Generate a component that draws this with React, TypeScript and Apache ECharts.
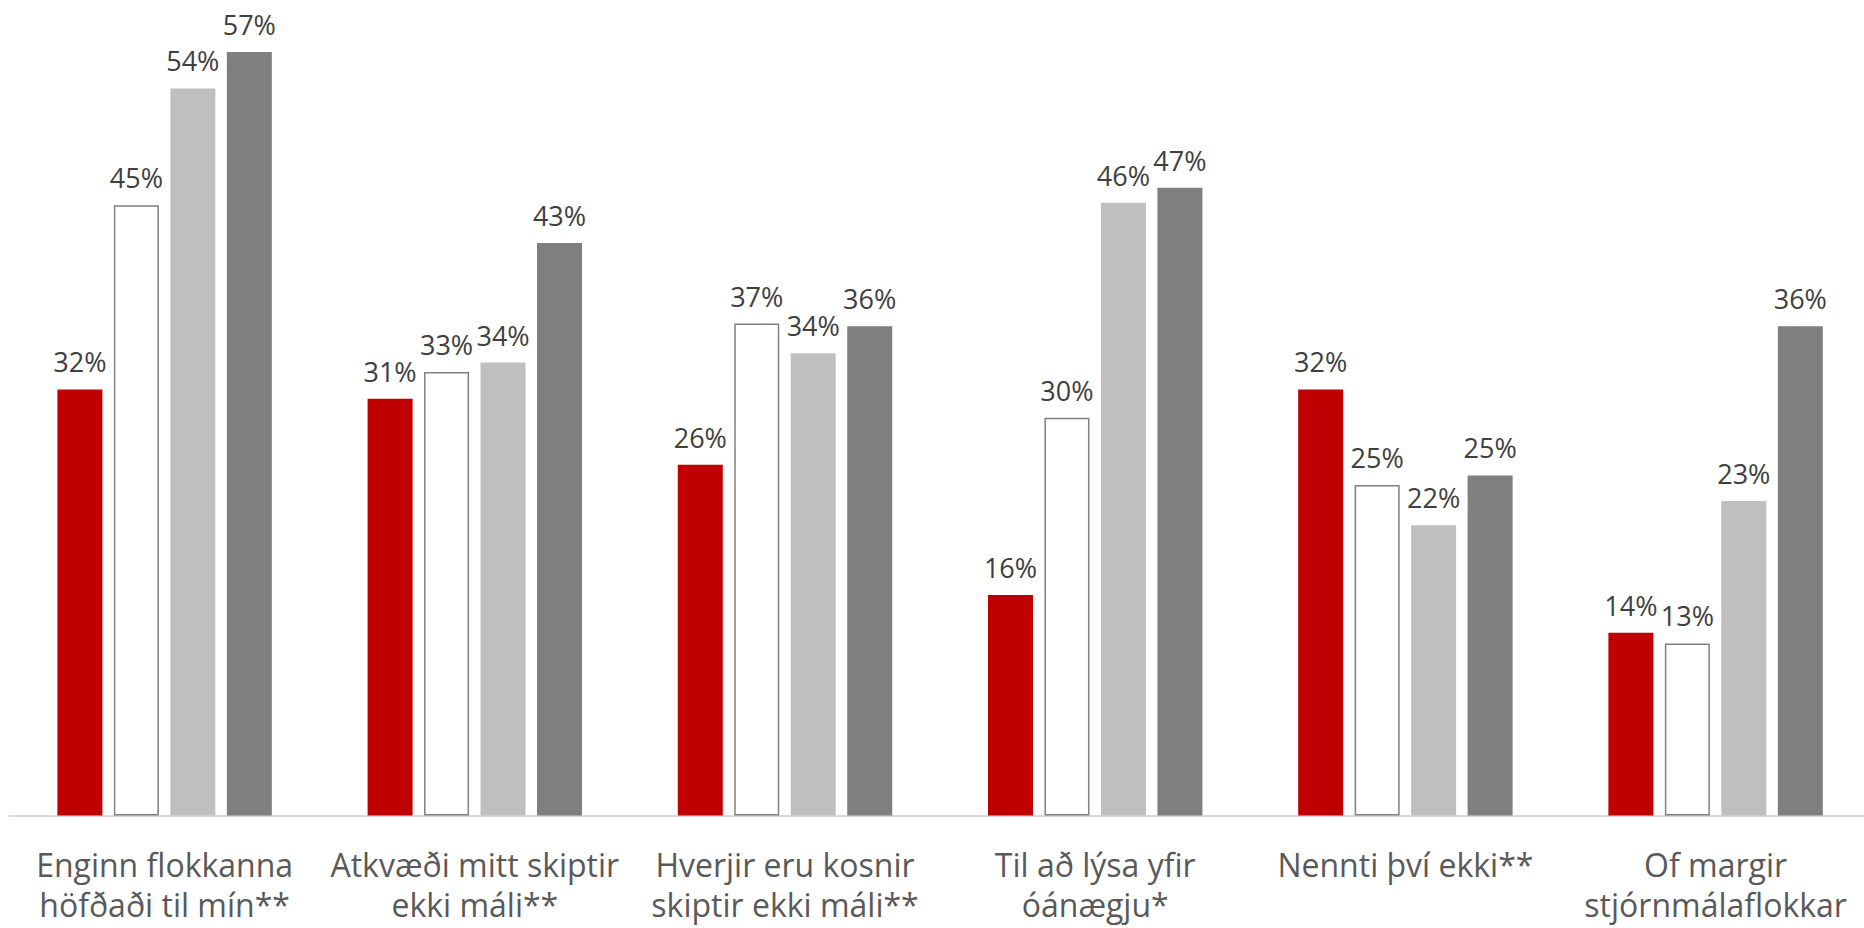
import React, { useEffect, useRef } from "react";
import * as echarts from "echarts";

const categories = [
  "Enginn flokkanna\nhöfðaði til mín**",
  "Atkvæði mitt skiptir\nekki máli**",
  "Hverjir eru kosnir\nskiptir ekki máli**",
  "Til að lýsa yfir\nóánægju*",
  "Nennti því ekki**",
  "Of margir\nstjórnmálaflokkar",
];

const seriesRed = [31.7, 31.0, 26.1, 16.4, 31.7, 13.6];
const seriesWhite = [45.4, 33.0, 36.6, 29.6, 24.6, 12.8];
const seriesLight = [54.1, 33.7, 34.4, 45.6, 21.6, 23.4];
const seriesDark = [56.8, 42.6, 36.4, 46.7, 25.3, 36.4];

const labelCfg = {
  show: true,
  position: "top",
  distance: 14,
  fontFamily: "Open Sans",
  fontSize: 27,
  color: "#404040",
  formatter: (p: any) => Math.round(p.value) + "%",
};

export default function App() {
  const ref = useRef<HTMLDivElement>(null);
  useEffect(() => {
    if (!ref.current) return;
    const chart = echarts.init(ref.current, undefined, { renderer: "svg" });
    const mk = (name: string, data: number[], itemStyle: any) => ({
      name,
      type: "bar",
      data,
      barWidth: 45,
      barGap: "25.5%",
      itemStyle,
      label: labelCfg,
    });
    chart.setOption({
      animation: false,
      backgroundColor: "#ffffff",
      grid: {
        left: 9.5,
        right: 9.3,
        top: 9.1,
        bottom: 112.5,
        containLabel: false,
        outerBoundsMode: "none",
      },
      xAxis: {
        type: "category",
        data: categories,
        axisLine: { show: true, lineStyle: { color: "#d9d9d9", width: 2 } },
        axisTick: { show: false },
        axisLabel: {
          interval: 0,
          margin: 29,
          fontFamily: "Open Sans",
          fontSize: 32,
          lineHeight: 40,
          color: "#595959",
          align: "center",
        },
      },
      yAxis: {
        type: "value",
        min: 0,
        max: 60,
        show: false,
        splitLine: { show: false },
      },
      series: [
        mk("s1", seriesRed, { color: "#C00000" }),
        mk("s2", seriesWhite, { color: "#ffffff", borderColor: "#808080", borderWidth: 1.5 }),
        mk("s3", seriesLight, { color: "#BFBFBF" }),
        mk("s4", seriesDark, { color: "#7F7F7F" }),
      ],
    });
    return () => chart.dispose();
  }, []);
  return (
    <div
      style={{
        position: "fixed",
        left: 0,
        top: 0,
        width: 1864,
        height: 928,
        overflow: "hidden",
        background: "#ffffff",
      }}
    >
      <div ref={ref} style={{ width: 1880, height: 928 }} />
    </div>
  );
}
